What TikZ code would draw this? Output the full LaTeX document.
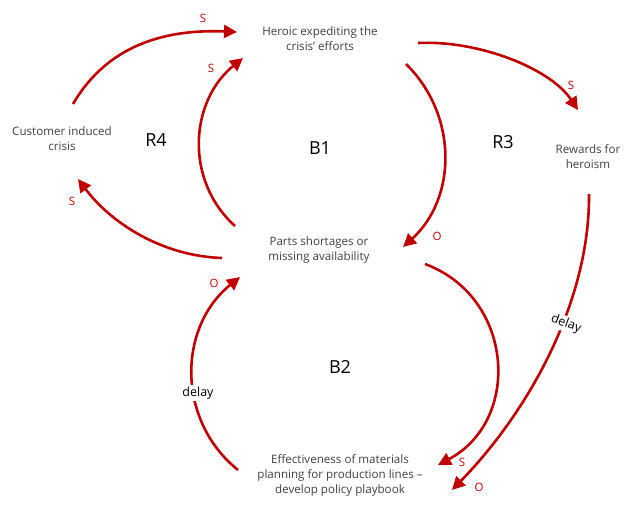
\documentclass[tikz,border=0pt]{standalone}
\usepackage{fontspec}
\setmainfont{Open Sans}
\usetikzlibrary{arrows.meta}
\definecolor{loopred}{RGB}{192,0,0}
\definecolor{txtgray}{RGB}{64,64,64}
\tikzset{
  var/.style={align=center, text=txtgray, font=\fontsize{11.6}{15}\selectfont, inner sep=1pt},
  looplbl/.style={text=black, font=\fontsize{18}{20}\selectfont, inner sep=0pt},
  pol/.style={text=loopred, font=\fontsize{11.5}{12}\selectfont, inner sep=0pt},
  link/.style={draw=loopred, line width=2.6pt, -{Triangle[length=13pt,width=13pt]}},
  delaylbl/.style={fill=white, text=black, font=\fontsize{12.5}{14}\selectfont, inner sep=1.5pt}
}
\begin{document}
\begin{tikzpicture}[x=1pt,y=-1pt]
\useasboundingbox (0,0) rectangle (640,512);
% variables
\node[var] (heroic) at (320,39) {Heroic expediting the\\crisis' efforts};
\node[var] (customer) at (62,139) {Customer induced\\crisis};
\node[var] (rewards) at (588,157) {Rewards for\\heroism};
\node[var] (parts) at (319,250) {Parts shortages or\\missing availability};
\node[var] (effect) at (340,475) {Effectiveness of materials\\planning for production lines --\\develop policy playbook};
% loop labels
\node[looplbl] (r4) at (156,140) {R4};
\node[looplbl] (b1) at (320,148) {B1};
\node[looplbl] (r3) at (503,142) {R3};
\node[looplbl] (b2) at (340,367) {B2};
% connector ends
\coordinate (cust-out) at (73,104);
\coordinate (hero-in1) at (237,32);
\coordinate (parts-out1) at (235,226);
\coordinate (hero-in2) at (243,58);
\coordinate (parts-out2) at (222,258);
\coordinate (cust-in) at (78,179);
\coordinate (hero-out1) at (406,64);
\coordinate (parts-in1) at (403,247);
\coordinate (hero-out2) at (418,43);
\coordinate (rew-in) at (578,110);
\coordinate (rew-out) at (589,194);
\coordinate (eff-in2) at (452,490);
\coordinate (parts-out3) at (425,264);
\coordinate (eff-in1) at (438,465);
\coordinate (eff-out) at (238,470);
\coordinate (parts-in2) at (240,277);
% connectors
\draw[link] (cust-out) .. controls (108,44) and (167,29) .. (hero-in1);
\draw[link] (parts-out1) .. controls (184,180) and (190,101) .. (hero-in2);
\draw[link] (parts-out2) .. controls (162,256) and (111,223) .. (cust-in);
\draw[link] (hero-out1) .. controls (458,115) and (457,198) .. (parts-in1);
\draw[link] (hero-out2) .. controls (478,40) and (550,68) .. (rew-in);
\draw[link] (rew-out) .. controls (590,300) and (530,410) .. (eff-in2);
\draw[link] (parts-out3) .. controls (514,297) and (522,420) .. (eff-in1);
\draw[link] (eff-out) .. controls (176,420) and (178,327) .. (parts-in2);
% delays
\node[delaylbl] (d1) at (198,393) {delay};
\node[delaylbl, rotate=-20] (d2) at (566,324) {delay};
% polarities
\node[pol] (p1) at (203,18) {S};
\node[pol] (p2) at (211,68) {S};
\node[pol] (p3) at (72,201) {S};
\node[pol] (p4) at (437,236) {O};
\node[pol] (p5) at (571,85) {S};
\node[pol] (p6) at (479,487) {O};
\node[pol] (p7) at (462,462) {S};
\node[pol] (p8) at (214,283) {O};
\end{tikzpicture}
\end{document}
